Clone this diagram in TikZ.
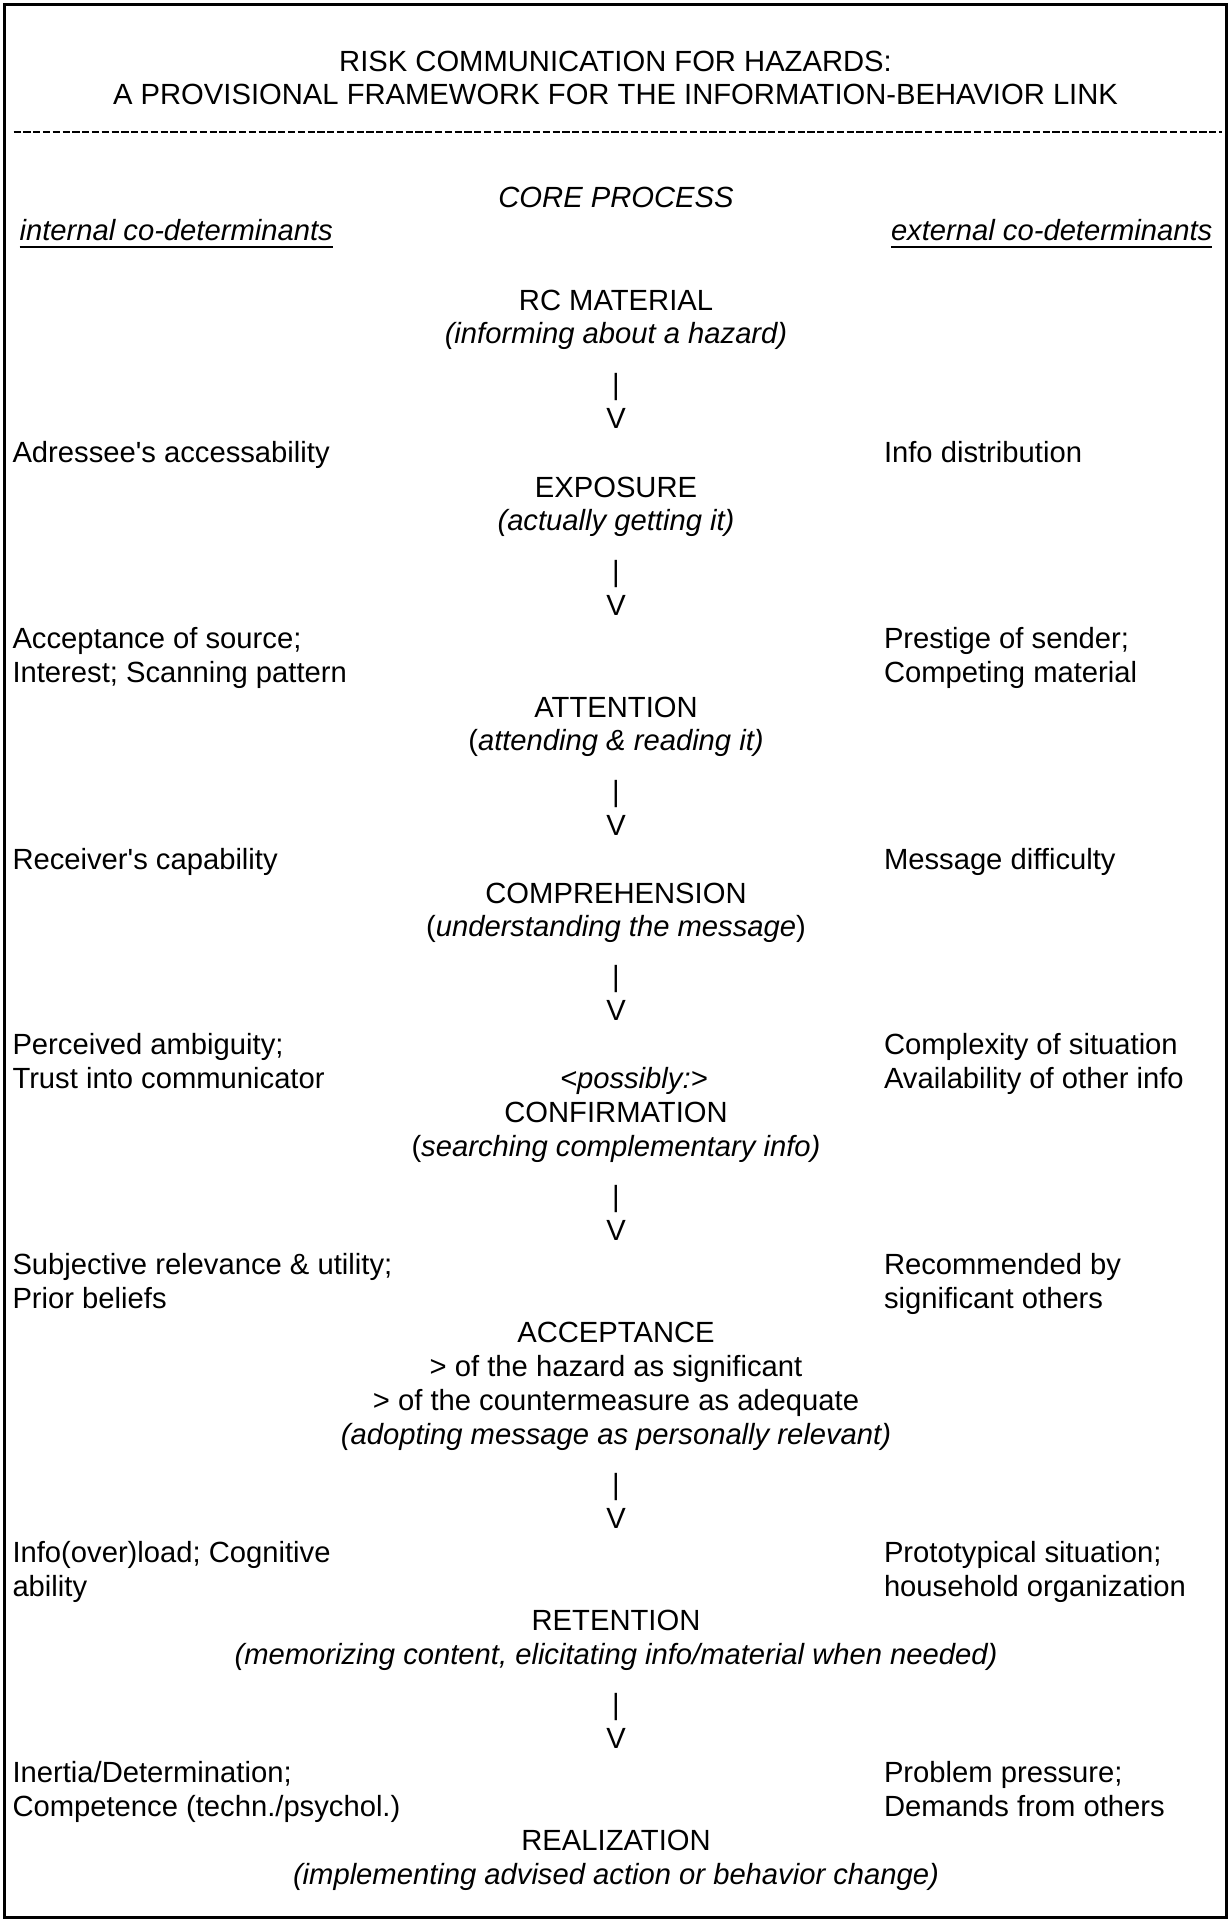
\documentclass[tikz,border=0pt]{standalone}
\usepackage{fontspec}
\newfontfamily\lsans{Liberation Sans}
\begin{document}
\begin{tikzpicture}[x=0.5pt,y=-0.5pt,
  every node/.style={inner sep=0pt, outer sep=0pt, font=\lsans\fontsize{14.6}{17}\selectfont},
  ctr/.style={anchor=base},
  lft/.style={anchor=base west},
  itx/.style={font=\lsans\fontsize{14.6}{17}\selectfont\itshape},
  frame/.style={line width=1.5pt},
  hyph/.style={line width=1.1pt, dash pattern=on 3.6pt off 1.3pt},
  uline/.style={line width=1.4pt}]
\useasboundingbox (0,0) rectangle (1230,1921);
\draw[frame] (4.5,5) rectangle (1226,1917.5);

% title
\node[ctr] (t1) at (615.5,72) {RISK COMMUNICATION FOR HAZARDS:};
\node[ctr] (t2) at (615.5,105) {A PROVISIONAL FRAMEWORK FOR THE INFORMATION-BEHAVIOR LINK};
\coordinate (dl) at (13.5,132);
\coordinate (dr) at (1222,132);
\draw[hyph] (dl) -- (dr);

\node[ctr,itx] (core) at (616,208) {CORE PROCESS};
\node[lft,itx] (intc) at (19.6,241) {internal co-determinants};
\node[lft,itx] (extc) at (891,241) {external co-determinants};
\draw[uline] ([yshift=-3pt]intc.base west) -- ([yshift=-3pt]intc.base east);
\draw[uline] ([yshift=-3pt]extc.base west) -- ([yshift=-3pt]extc.base east);

% RC material
\node[ctr] (rc) at (616,310) {RC MATERIAL};
\node[ctr,itx] (rcs) at (616,343) {(informing about a hazard)};
\node[ctr] (b1) at (616,394) {|};
\node[ctr] (v1) at (616,428) {V};

% exposure
\node[lft] (l1) at (12.5,462) {Adressee's accessability};
\node[lft] (r1) at (884,462) {Info distribution};
\node[ctr] (exp) at (616,497) {EXPOSURE};
\node[ctr,itx] (exps) at (616,530) {(actually getting it)};
\node[ctr] (b2) at (616,581) {|};
\node[ctr] (v2) at (616,615) {V};

% attention
\node[lft] (l2a) at (12.5,648) {Acceptance of source;};
\node[lft] (l2b) at (12.5,682) {Interest; Scanning pattern};
\node[lft] (r2a) at (884,648) {Prestige of sender;};
\node[lft] (r2b) at (884,682) {Competing material};
\node[ctr] (att) at (616,717) {ATTENTION};
\node[ctr] (atts) at (616,750) {(\textit{attending \& reading it)}};
\node[ctr] (b3) at (616,801) {|};
\node[ctr] (v3) at (616,835) {V};

% comprehension
\node[lft] (l3) at (12.5,869) {Receiver's capability};
\node[lft] (r3) at (884,869) {Message difficulty};
\node[ctr] (com) at (616,903) {COMPREHENSION};
\node[ctr] (coms) at (616,936) {(\textit{understanding the message})};
\node[ctr] (b4) at (616,986) {|};
\node[ctr] (v4) at (616,1020) {V};

% confirmation
\node[lft] (l4a) at (12.5,1054) {Perceived ambiguity;};
\node[lft] (l4b) at (12.5,1088) {Trust into communicator};
\node[lft] (r4a) at (884,1054) {Complexity of situation};
\node[lft] (r4b) at (884,1088) {Availability of other info};
\node[lft,itx] (poss) at (560,1088) {<possibly:>};
\node[ctr] (conf) at (616,1122) {CONFIRMATION};
\node[ctr] (confs) at (616,1156) {(\textit{searching complementary info)}};
\node[ctr] (b5) at (616,1206) {|};
\node[ctr] (v5) at (616,1240) {V};

% acceptance
\node[lft] (l5a) at (12.5,1274) {Subjective relevance \& utility;};
\node[lft] (l5b) at (12.5,1308) {Prior beliefs};
\node[lft] (r5a) at (884,1274) {Recommended by};
\node[lft] (r5b) at (884,1308) {significant others};
\node[ctr] (acc) at (616,1342) {ACCEPTANCE};
\node[ctr] (acc1) at (616,1376) {> of the hazard as significant};
\node[ctr] (acc2) at (616,1410) {> of the countermeasure as adequate};
\node[ctr,itx] (accs) at (616,1444) {(adopting message as personally relevant)};
\node[ctr] (b6) at (616,1494) {|};
\node[ctr] (v6) at (616,1528) {V};

% retention
\node[lft] (l6a) at (12.5,1562) {Info(over)load; Cognitive};
\node[lft] (l6b) at (12.5,1596) {ability};
\node[lft] (r6a) at (884,1562) {Prototypical situation;};
\node[lft] (r6b) at (884,1596) {household organization};
\node[ctr] (ret) at (616,1630) {RETENTION};
\node[ctr,itx] (rets) at (616,1664) {(memorizing content, elicitating info/material when needed)};
\node[ctr] (b7) at (616,1714) {|};
\node[ctr] (v7) at (616,1748) {V};

% realization
\node[lft] (l7a) at (12.5,1782) {Inertia/Determination;};
\node[lft] (l7b) at (12.5,1816) {Competence (techn./psychol.)};
\node[lft] (r7a) at (884,1782) {Problem pressure;};
\node[lft] (r7b) at (884,1816) {Demands from others};
\node[ctr] (rea) at (616,1850) {REALIZATION};
\node[ctr,itx] (reas) at (616,1884) {(implementing advised action or behavior change)};
\end{tikzpicture}
\end{document}
